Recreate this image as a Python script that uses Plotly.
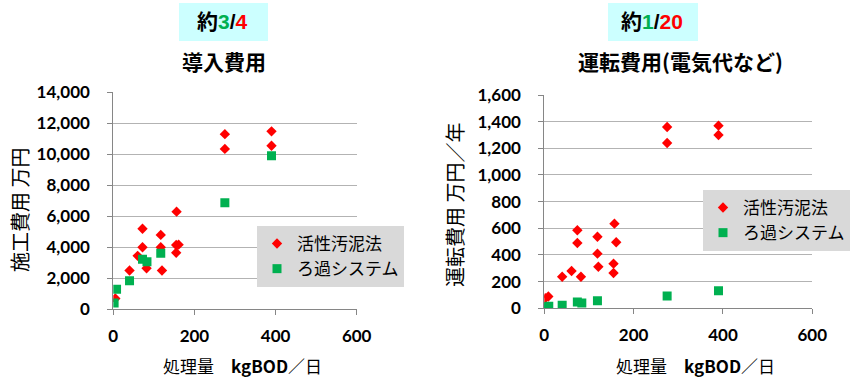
import plotly.graph_objects as go

W, H = 850, 383

# ---- Data: construction cost (万円) vs capacity (kgBOD/日)
cost_as_x = [5, 40, 60, 72, 72, 82, 117, 117, 120, 156, 155, 161, 155, 275, 275, 390, 390]
cost_as_y = [700, 2500, 3450, 5200, 4000, 2650, 4800, 4000, 2500, 6300, 4150, 4170, 3650, 11300, 10350, 11480, 10550]
cost_fs_x = [2, 8, 40, 72, 83, 117, 275, 390]
cost_fs_y = [400, 1300, 1850, 3230, 3070, 3620, 6870, 9900]

# ---- Data: operating cost (万円/年) vs capacity
op_as_x = [2, 9, 40, 61, 74, 74, 82, 119, 119, 121, 157, 161, 155, 155, 275, 275, 390, 390]
op_as_y = [75, 88, 237, 280, 585, 490, 237, 537, 410, 312, 635, 495, 335, 265, 1360, 1240, 1370, 1300]
op_fs_x = [0, 5, 10, 40, 74, 84, 119, 275, 390]
op_fs_y = [5, 10, 15, 22, 47, 40, 57, 92, 132]

series_names = ["活性汚泥法", "ろ過システム"]
x_title = "処理量　<b>kgBOD</b>／日"
y_titles = ["施工費用 万円", "運転費用 万円／年"]
chart_titles = ["導入費用", "運転費用(電気代など)"]
ratio_texts = ["<b>約<span style='color:#00b050'>3</span>/<span style='color:#ff0000'>4</span></b>",
               "<b>約<span style='color:#00b050'>1</span>/<span style='color:#ff0000'>20</span></b>"]

RED = "#ff0000"
GREEN = "#00b050"
CJK = "Noto Sans CJK JP"
NUM = "Lato"

fig = go.Figure()

fig.add_trace(go.Scatter(x=cost_as_x, y=cost_as_y, mode="markers", name=series_names[0],
                         marker=dict(symbol="diamond", size=8, color=RED),
                         xaxis="x", yaxis="y", legend="legend"))
fig.add_trace(go.Scatter(x=cost_fs_x, y=cost_fs_y, mode="markers", name=series_names[1],
                         marker=dict(symbol="square", size=9, color=GREEN),
                         xaxis="x", yaxis="y", legend="legend"))
fig.add_trace(go.Scatter(x=op_as_x, y=op_as_y, mode="markers", name=series_names[0],
                         marker=dict(symbol="diamond", size=8, color=RED),
                         xaxis="x2", yaxis="y2", legend="legend2"))
fig.add_trace(go.Scatter(x=op_fs_x, y=op_fs_y, mode="markers", name=series_names[1],
                         marker=dict(symbol="square", size=9, color=GREEN),
                         xaxis="x2", yaxis="y2", legend="legend2"))

def px_x(p):
    return p / W

def px_y(p):
    return 1 - p / H

axis_common = dict(showline=True, linecolor="#868686", linewidth=1, ticks="outside",
                   tickcolor="#868686", ticklen=5, zeroline=False, automargin=False,
                   tickfont=dict(family=NUM, size=17, color="#000000", weight="bold"))

xaxis_common = dict(axis_common, range=[0, 600], dtick=200, showgrid=False,
                    ticklabelstandoff=6)
yaxis_common = dict(axis_common, showgrid=True, gridcolor="#b3b3b3", gridwidth=1,
                    tickformat=",d", ticklabelstandoff=14)

legend_common = dict(xanchor="left", yanchor="top", bgcolor="#d9d9d9",
                     font=dict(family=CJK, size=17, color="#000000"),
                     itemwidth=30, tracegroupgap=0)

fig.update_layout(
    width=W, height=H,
    margin=dict(l=0, r=0, t=0, b=0, autoexpand=False),
    paper_bgcolor="white", plot_bgcolor="white",
    showlegend=True,
    xaxis=dict(xaxis_common, domain=[px_x(113.3), px_x(356.7)], anchor="y"),
    yaxis=dict(yaxis_common, domain=[px_y(309.3), px_y(92.3)], range=[0, 14000], dtick=2000, anchor="x"),
    xaxis2=dict(xaxis_common, domain=[px_x(544.3), px_x(812.3)], anchor="y2"),
    yaxis2=dict(yaxis_common, domain=[px_y(308.3), px_y(95)], range=[0, 1600], dtick=200, anchor="x2"),
    legend=dict(legend_common, x=px_x(257), y=px_y(226)),
    legend2=dict(legend_common, x=px_x(703), y=px_y(190)),
)

# cyan boxes behind ratio labels
for (x0, x1) in [(179, 268), (608, 698)]:
    fig.add_shape(type="rect", xref="paper", yref="paper",
                  x0=px_x(x0), x1=px_x(x1), y0=px_y(41), y1=px_y(3),
                  fillcolor="#ccffff", line=dict(width=0), layer="below")

annotations = []
for cx, txt in zip([223, 652], ratio_texts):
    annotations.append(dict(x=px_x(cx), y=px_y(22), xref="paper", yref="paper",
                            text=txt, showarrow=False, xanchor="center", yanchor="middle",
                            font=dict(family="Liberation Sans, " + CJK, size=21, color="#000000")))
for cx, txt in zip([224, 680], chart_titles):
    annotations.append(dict(x=px_x(cx), y=px_y(61), xref="paper", yref="paper",
                            text="<b>" + txt + "</b>", showarrow=False, xanchor="center", yanchor="middle",
                            font=dict(family=CJK, size=21, color="#000000")))
for cx in [242, 695]:
    annotations.append(dict(x=px_x(cx), y=px_y(365), xref="paper", yref="paper",
                            text=x_title, showarrow=False, xanchor="center", yanchor="middle",
                            font=dict(family=CJK, size=17, color="#000000")))
for cx, cy, txt in zip([19, 454], [210, 205], y_titles):
    annotations.append(dict(x=px_x(cx), y=px_y(cy), xref="paper", yref="paper",
                            text=txt, showarrow=False, xanchor="center", yanchor="middle",
                            textangle=-90,
                            font=dict(family=CJK, size=20, color="#000000")))
fig.update_layout(annotations=annotations)

fig.write_html("out.html", config={"displayModeBar": False},
               post_script="document.body.style.margin='0';")
